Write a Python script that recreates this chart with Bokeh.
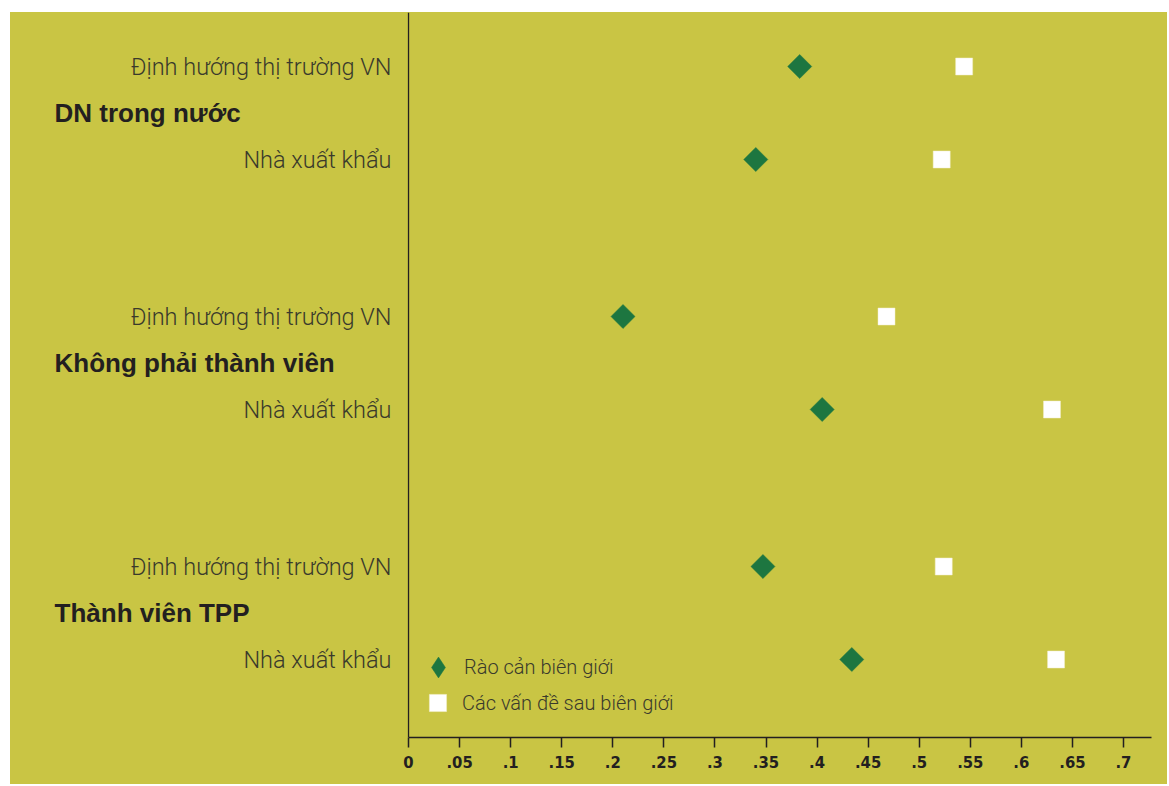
from bokeh.plotting import figure
from bokeh.models import (Range1d, LinearAxis, FixedTicker, CustomJSTickFormatter, Span,
                          ColumnDataSource, Legend, LegendItem, Spacer)
from bokeh.layouts import row, column
from bokeh.core.properties import value
from bokeh.embed import file_html
from bokeh.resources import INLINE
import math

# ---- data ----
groups = ["DN trong nước", "Không phải thành viên", "Thành viên TPP"]
subgroups = ["Định hướng thị trường VN", "Nhà xuất khẩu"]
border_barriers = [0.383, 0.340, 0.210, 0.405, 0.347, 0.434]   # Rào cản biên giới
behind_border = [0.544, 0.522, 0.468, 0.630, 0.524, 0.634]     # Các vấn đề sau biên giới
x_ticks = [0, .05, .1, .15, .2, .25, .3, .35, .4, .45, .5, .55, .6, .65, .7]
series_names = ["Rào cản biên giới", "Các vấn đề sau biên giới"]

BG = "#c9c544"
DARK = "#231f20"
GREEN = "#1d7640"
LABEL = "#3a3a2c"
LIGHT_FONT_NAME = "'Roboto Light', Roboto, 'Liberation Sans', sans-serif"
LIGHT_FONT = value(LIGHT_FONT_NAME)

# row positions: group index +/- offset
offs = [-0.186, 0.186]
row_y, row_lab = [], []
for gi, g in enumerate(groups):
    for si, s in enumerate(subgroups):
        row_y.append(gi + offs[si])
        row_lab.append(s)

src = ColumnDataSource(dict(y=row_y, lab=row_lab, a=border_barriers, b=behind_border))
gsrc = ColumnDataSource(dict(y=list(range(len(groups))), g=groups))

p = figure(width=1157, height=772, output_backend="svg", toolbar_location=None,
           x_range=Range1d(-0.3897, 0.7431), y_range=Range1d(2.498, -0.402),
           x_axis_type=None, y_axis_type=None,
           background_fill_color=BG, border_fill_color=BG,
           min_border_left=0, min_border_right=0, min_border_top=0, min_border_bottom=47)
p.outline_line_color = None
p.grid.visible = False
p.styles = {"background-color": BG}

xaxis = LinearAxis(ticker=FixedTicker(ticks=x_ticks, minor_ticks=[]),
                   formatter=CustomJSTickFormatter(code="""
                       if (tick == 0) return "0";
                       return tick.toFixed(2).replace(/0+$/, "").replace(/^0/, "");
                   """),
                   bounds=(0, 0.7274))
xaxis.axis_line_color = DARK
xaxis.axis_line_width = 1.5
xaxis.major_tick_line_color = DARK
xaxis.major_tick_line_width = 1.5
xaxis.major_tick_out = 10
xaxis.major_tick_in = 0
xaxis.minor_tick_line_color = None
xaxis.major_label_text_font = "'DejaVu Sans Condensed', 'Liberation Sans', sans-serif"
xaxis.major_label_text_font_style = "bold"
xaxis.major_label_text_font_size = "16.5px"
xaxis.major_label_text_color = DARK
xaxis.major_label_standoff = 8
p.add_layout(xaxis, "below")

p.add_layout(Span(location=0, dimension="height", line_color=DARK, line_width=1.3))

# row labels and group labels
p.text(x=0, y="y", text="lab", source=src, x_offset=-17, text_align="right",
       text_baseline="middle", text_font=LIGHT_FONT, text_font_size="23.5px", text_color=LABEL)
p.text(x=0, y="y", text="g", source=gsrc, x_offset=-354, text_align="left",
       text_baseline="middle", text_font=value("Liberation Sans"), text_font_style="bold",
       text_font_size="26px", text_color=DARK)

r1 = p.scatter(x="a", y="y", source=src, marker="square", size=17, angle=math.pi / 4,
               fill_color=GREEN, line_color=GREEN, line_width=0.5)
r2 = p.scatter(x="b", y="y", source=src, marker="square", size=17,
               fill_color="white", line_color="#f2efc8", line_width=0.5)
# legend key for the diamond series (legend glyphs ignore marker angle); never drawn in the plot
r1_key = p.scatter(x=[float("nan")], y=[float("nan")], marker="diamond",
                   fill_color=GREEN, line_color=GREEN, line_width=0.5)

for r, name, box, standoff, loc in [(r1_key, series_names[0], 52, 0, (402, 44)),
                                    (r2, series_names[1], 43, 3, (406, 13))]:
    lg = Legend(items=[LegendItem(label=name, renderers=[r])], location=loc,
                glyph_width=box, glyph_height=box, label_standoff=standoff, padding=0,
                margin=0, spacing=0, background_fill_alpha=0, border_line_color=None,
                label_text_font=LIGHT_FONT_NAME, label_text_font_size="20px",
                label_text_color=LABEL, label_text_baseline="middle")
    p.add_layout(lg, "center")

layout = row(Spacer(width=10), column(Spacer(height=12), p))
open("out.html", "w").write(file_html(layout, INLINE))
